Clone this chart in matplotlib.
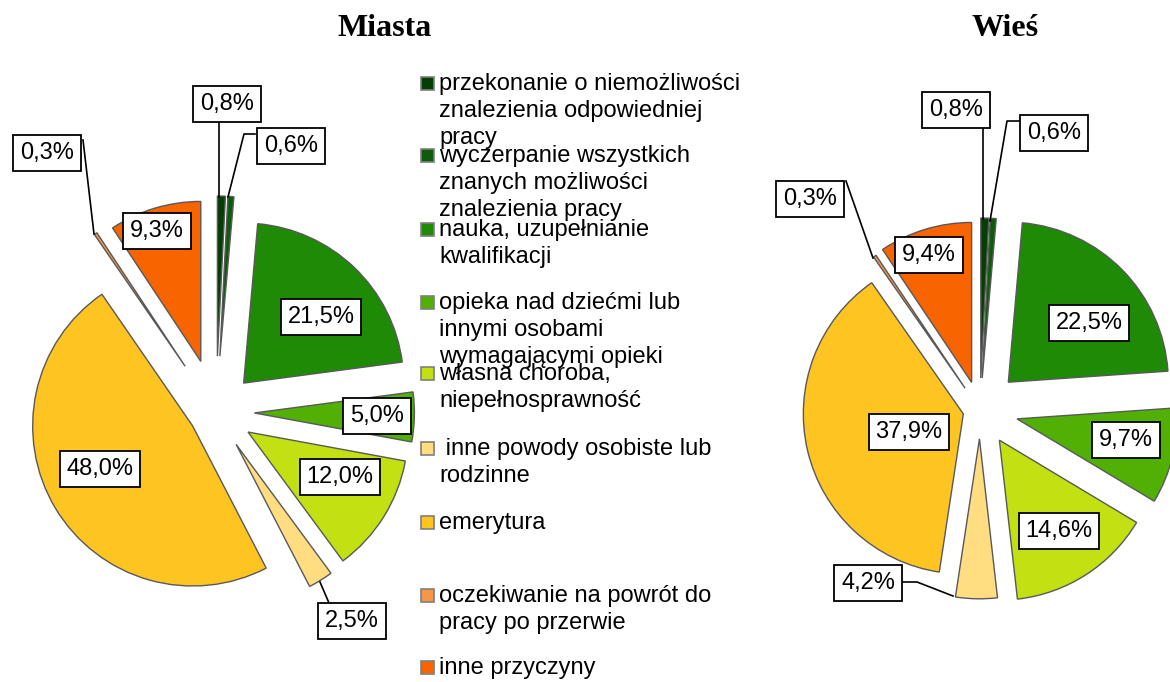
import matplotlib.pyplot as plt
from matplotlib.patches import Rectangle

plt.rcParams['font.family'] = ['Liberation Sans', 'DejaVu Sans']

# dane
kategorie = [
    "przekonanie o niemożliwości\nznalezienia odpowiedniej\npracy",
    "wyczerpanie wszystkich\nznanych możliwości\nznalezienia pracy",
    "nauka, uzupełnianie\nkwalifikacji",
    "opieka nad dziećmi lub\ninnymi osobami\nwymagającymi opieki",
    "własna choroba,\nniepełnosprawność",
    " inne powody osobiste lub\nrodzinne",
    "emerytura",
    "oczekiwanie na powrót do\npracy po przerwie",
    "inne przyczyny",
]
miasta = [0.8, 0.6, 21.5, 5.0, 12.0, 2.5, 48.0, 0.3, 9.3]
wies = [0.8, 0.6, 22.5, 9.7, 14.6, 4.2, 37.9, 0.3, 9.4]

kolory = ['#053d05', '#0c5c0c', '#1e8a06', '#52b005', '#c2e012',
          '#ffdd80', '#fdc422', '#f79646', '#f86400']

# wysuniecie wycinkow (jak w oryginale, rozne dla wycinkow)
explode_m = [0.35, 0.35, 0.25, 0.24, 0.236, 0.238, 0.17, 0.345, 0.33]
explode_w = [0.20, 0.20, 0.248, 0.238, 0.224, 0.18, 0.107, 0.165, 0.18]

R = 160.0  # promien w pikselach
W, H = 1170, 682

# pozycje etykiet w pikselach (x, y od gory)
etyk_m = [(227, 104), (291, 146), (321, 317), (377, 416), (340, 477),
          (352, 621), (100, 469), (47, 153), (157, 231)]
etyk_w = [(956, 110), (1054, 133), (1089, 323), (1126, 440), (1059, 531),
          (868, 583), (909, 432), (810, 199), (929, 255)]

# linie odniesienia (piksele)
linie_m = [[(219, 122), (219, 197)],
           [(255, 134), (244, 134), (228, 197)],
           [(83, 140), (94, 234)],
           [(329, 603), (320, 582)]]
linie_w = [[(983, 128), (983, 219)],
           [(1019, 121), (1007, 121), (990, 221)],
           [(846, 181), (873, 258)],
           [(903, 582), (917, 582), (953, 596)]]


def fmt(v):
    return f"{v:.1f}%".replace('.', ',')


def rysuj(ax, wartosci, explode, srodek, box, etyk, linie, tytul, tytul_x):
    cx, cy = srodek
    x0, x1, y0, y1 = box
    ax.set_position([x0 / W, (H - y1) / H, (x1 - x0) / W, (y1 - y0) / H])
    ax.pie(wartosci, colors=kolory, startangle=90, counterclock=False,
           explode=explode,
           wedgeprops=dict(edgecolor='#595959', linewidth=1.0))
    ax.set_aspect('auto')
    ax.set_xlim((x0 - cx) / R, (x1 - cx) / R)
    ax.set_ylim((cy - y1) / R, (cy - y0) / R)
    ax.axis('off')

    def d(p):
        return ((p[0] - cx) / R, (cy - p[1]) / R)

    for pts in linie:
        xs = [d(p)[0] for p in pts]
        ys = [d(p)[1] for p in pts]
        ax.plot(xs, ys, color='black', lw=1.2, zorder=3)

    for v, p in zip(wartosci, etyk):
        x, y = d(p)
        ax.text(x, y, fmt(v), ha='center', va='center', fontsize=17,
                zorder=4,
                bbox=dict(boxstyle='square,pad=0.28', fc='white',
                          ec='black', lw=1.3))

    fig.text(tytul_x / W, 1 - 28 / H, tytul, ha='center', va='center',
             fontsize=23, fontweight='bold', family='Liberation Serif')


fig = plt.figure(figsize=(W / 100, H / 100), dpi=100)
ax1 = fig.add_axes([0, 0, 0.3, 1])
ax2 = fig.add_axes([0.6, 0, 0.3, 1])

rysuj(ax1, miasta, explode_m, (216, 412), (0, 440, 40, 682),
      etyk_m, linie_m, "Miasta", 385)
rysuj(ax2, wies, explode_w, (980, 410), (740, 1170, 40, 682),
      etyk_w, linie_w, "Wieś", 1005)

# legenda
leg_y = [83, 155, 229, 302, 373, 448, 522, 595, 667]
for i, (kat, kol) in enumerate(zip(kategorie, kolory)):
    yc = leg_y[i]
    fig.patches.append(Rectangle((421 / W, 1 - (yc + 7) / H), 13 / W, 13 / H,
                                 transform=fig.transFigure, fc=kol,
                                 ec='#7f7f7f', lw=1.2, figure=fig))
    fig.text(439 / W, 1 - (yc - 10) / H, kat, ha='left', va='top',
             fontsize=17, linespacing=1.3)

fig.savefig('out.png', dpi=100)
